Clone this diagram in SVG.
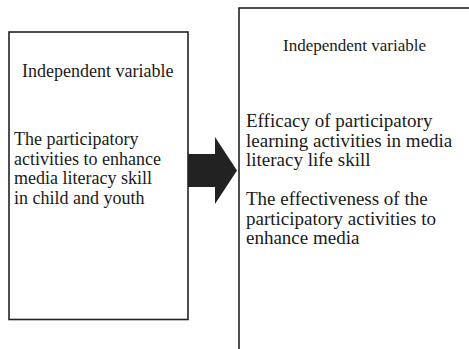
<svg xmlns="http://www.w3.org/2000/svg" width="469" height="349" viewBox="0 0 469 349">
<style>
.box{fill:#fff;stroke:#222;stroke-width:1.6}
.t{font-family:"Liberation Serif","Times New Roman",serif;fill:#1a1a1a}
</style>
<rect width="469" height="349" fill="#fff"/>
<g id="node-left">
<rect class="box" x="9" y="32" width="179" height="287.5"/>
<text class="t" x="22" y="77" font-size="18">Independent variable</text>
<text class="t" font-size="18"><tspan x="14" y="145">The participatory</tspan><tspan x="14" y="165">activities to enhance</tspan><tspan x="14" y="184">media literacy skill</tspan><tspan x="14" y="204">in child and youth</tspan></text>
</g>
<g id="node-right">
<rect class="box" x="239" y="8" width="240" height="360"/>
<text class="t" x="283" y="51" font-size="17">Independent variable</text>
<text class="t" font-size="19"><tspan x="246" y="127">Efficacy of participatory</tspan><tspan x="246" y="147">learning activities in media</tspan><tspan x="246" y="166">literacy life skill</tspan><tspan x="246" y="205">The effectiveness of the</tspan><tspan x="246" y="225">participatory activities to</tspan><tspan x="246" y="244">enhance media</tspan></text>
</g>
<g id="connectors">
<polygon points="188,154 215,154 215,137 237,170.5 215,204 215,187 188,187" fill="#222"/>
</g>
</svg>
